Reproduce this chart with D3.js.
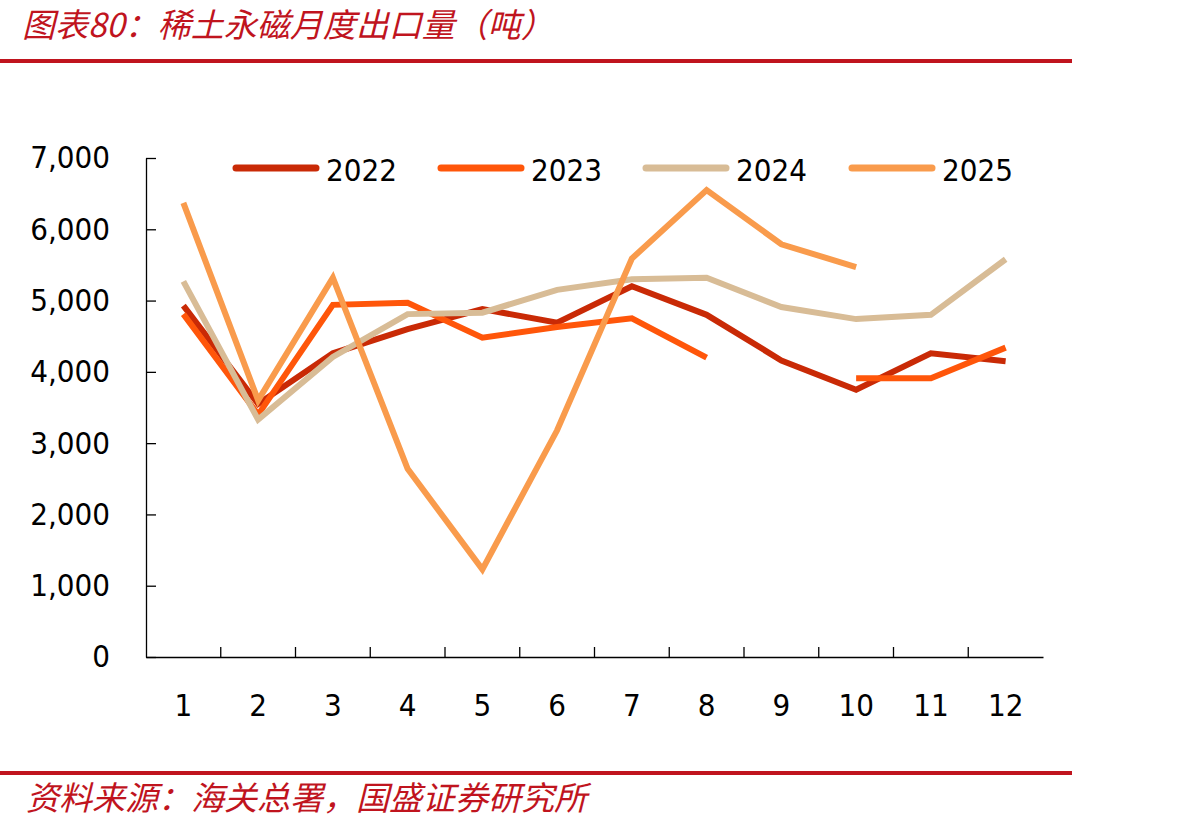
<!DOCTYPE html>
<html>
<head>
<meta charset="utf-8">
<script src="https://cdn.jsdelivr.net/npm/d3@7"></script>
<style>
  body { margin: 0; background: #fff; }
  svg text { font-family: "DejaVu Sans Condensed", "DejaVu Sans", sans-serif; }
</style>
</head>
<body>
<div id="chart"></div>
<script>
// chart data (tonnes per month)
var months = ["1","2","3","4","5","6","7","8","9","10","11","12"];
var yTicks = [0, 1000, 2000, 3000, 4000, 5000, 6000, 7000];
var seriesNames = ["2022", "2023", "2024", "2025"];
var v2022 = [4930, 3550, 4260, 4600, 4880, 4690, 5200, 4800, 4160, 3750, 4260, 4150];
var v2023 = [4810, 3400, 4940, 4970, 4480, 4630, 4750, 4200, null, 3910, 3910, 4340];
var v2024 = [5270, 3330, 4210, 4810, 4830, 5150, 5300, 5320, 4910, 4740, 4800, 5580];
var v2025 = [6370, 3600, 5320, 2640, 1230, 3180, 5590, 6550, 5790, 5470, null, null];
var colors = ["#C92A06", "#FF560A", "#D8BC96", "#F99B4C"];

var W = 1192, H = 829;
var margin = {top: 158, left: 146, right: 149, bottom: 172};
var width = W - margin.left - margin.right,
    height = H - margin.top - margin.bottom;

var svg = d3.select("#chart").append("svg")
  .attr("width", W)
  .attr("height", H);

// title + red rules
svg.append("text")
  .attr("x", 22).attr("y", 37)
  .style("font-family", "'Noto Sans CJK SC', sans-serif")
  .style("font-style", "italic")
  .style("font-size", "33px")
  .attr("fill", "#C0141E")
  .text("图表80：稀土永磁月度出口量（吨）");

svg.append("rect").attr("x", 0).attr("y", 59).attr("width", 1072).attr("height", 4).attr("fill", "#C0141E");
svg.append("rect").attr("x", 0).attr("y", 771).attr("width", 1072).attr("height", 4).attr("fill", "#C0141E");

svg.append("text")
  .attr("x", 26).attr("y", 810)
  .style("font-family", "'Noto Sans CJK SC', sans-serif")
  .style("font-style", "italic")
  .style("font-size", "33px")
  .attr("fill", "#C0141E")
  .text("资料来源：海关总署，国盛证券研究所");

var g = svg.append("g")
  .attr("transform", "translate(" + margin.left + "," + margin.top + ")");

var x = d3.scaleBand().domain(months).range([0, width]);
var y = d3.scaleLinear().domain([0, 7000]).range([height, 0]);

// y axis, ticks point inward
var yAxis = g.append("g")
  .call(d3.axisLeft(y).tickValues(yTicks).tickSizeInner(-10).tickSizeOuter(0).tickPadding(36)
    .tickFormat(d3.format(",")));
yAxis.select(".domain").attr("stroke", "#000").attr("stroke-width", 1.3);
yAxis.selectAll(".tick line").attr("stroke", "#000").attr("stroke-width", 1.3);
yAxis.selectAll("text")
  .style("font-size", "31px")
  .attr("fill", "#000");

// x axis, tick marks between categories
var xAxis = g.append("g")
  .attr("transform", "translate(0," + height + ")")
  .call(d3.axisBottom(x).tickSize(0).tickPadding(48));
xAxis.select(".domain").attr("stroke", "#000").attr("stroke-width", 1.3);
xAxis.selectAll("text")
  .style("font-size", "31px")
  .attr("fill", "#000")
  .attr("dy", "0.35em");

g.append("g").selectAll("line")
  .data(months.slice(1))
  .enter()
  .append("line")
    .attr("x1", function(d) { return x(d); })
    .attr("x2", function(d) { return x(d); })
    .attr("y1", height)
    .attr("y2", height - 10)
    .attr("stroke", "#000")
    .attr("stroke-width", 1.3);

// lines
var allSeries = [v2022, v2023, v2024, v2025];
var line = d3.line()
  .defined(function(d) { return d != null; })
  .x(function(d, i) { return x(months[i]) + x.bandwidth() / 2; })
  .y(function(d) { return y(d); });

allSeries.forEach(function(vals, k) {
  g.append("path")
    .datum(vals)
    .attr("fill", "none")
    .attr("stroke", colors[k])
    .attr("stroke-width", 6)
    .attr("stroke-linejoin", "miter")
    .attr("d", line);
});

// legend
var legendX = [233, 438, 643, 849];
seriesNames.forEach(function(name, k) {
  svg.append("line")
    .attr("x1", legendX[k] + 3).attr("x2", legendX[k] + 83)
    .attr("y1", 168).attr("y2", 168)
    .attr("stroke", colors[k])
    .attr("stroke-width", 7)
    .attr("stroke-linecap", "round");
  svg.append("text")
    .attr("x", legendX[k] + 93).attr("y", 181)
    .style("font-size", "31px")
    .attr("fill", "#000")
    .text(name);
});
</script>
</body>
</html>
